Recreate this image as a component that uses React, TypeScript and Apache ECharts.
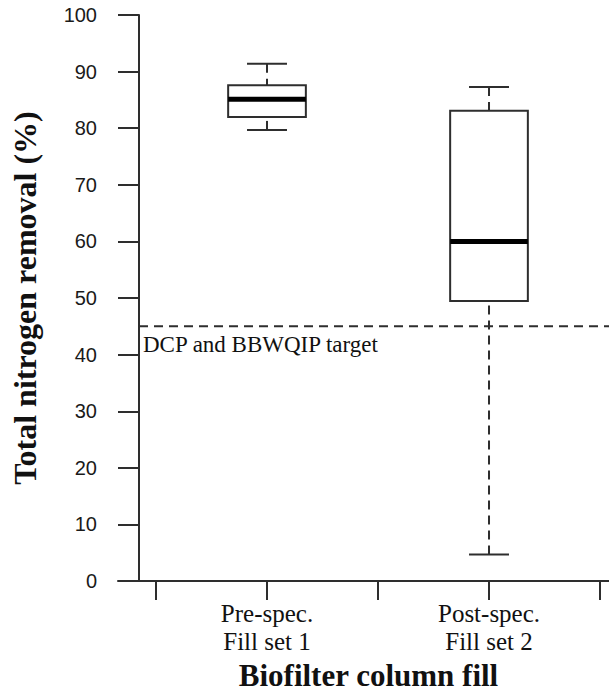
import React, { useEffect, useRef } from "react";
import * as echarts from "echarts";

// ---- data ----
const CATEGORIES = ["Pre-spec.\nFill set 1", "Post-spec.\nFill set 2"];
const CATEGORY_POS = [1, 2];
const MIN_VALUES = [79.7, 4.7];
const Q1_VALUES = [82.0, 49.5];
const MEDIAN_VALUES = [85.1, 60.0];
const Q3_VALUES = [87.6, 83.1];
const MAX_VALUES = [91.4, 87.3];
const TARGET_VALUE = 45;
const TARGET_LABEL = "DCP and BBWQIP target";
const X_TICK_VALUES = [0.5, 1, 1.5, 2, 2.5];
const Y_MIN = 0;
const Y_MAX = 100;
const Y_INTERVAL = 10;

// ---- axis extent (x is a value axis carrying the two groups at 1 and 2) ----
const X_MIN = 0.3288;
const X_MAX = 2.5405;
const Y_AXIS_AT = 0.4234;
const BOX_WIDTH = 0.35;
const CAP_WIDTH = 0.18;

const LINE = "#2e2e2e";
const SERIF = "'Liberation Serif', 'Times New Roman', serif";
const SANS = "'Liberation Sans', Arial, sans-serif";

export default function App() {
  const ref = useRef<HTMLDivElement>(null);

  useEffect(() => {
    if (!ref.current) return;
    const chart = echarts.init(ref.current, undefined, { renderer: "svg" });

    const boxData = CATEGORY_POS.map((p, i) => [
      p,
      MIN_VALUES[i],
      Q1_VALUES[i],
      MEDIAN_VALUES[i],
      Q3_VALUES[i],
      MAX_VALUES[i],
    ]);

    const option: any = {
      animation: false,
      backgroundColor: "#fff",
      grid: { left: 118, top: 15, right: 0, bottom: 109, containLabel: false },
      xAxis: {
        type: "value",
        min: X_MIN,
        max: X_MAX,
        splitLine: { show: false },
        axisLine: { show: true, lineStyle: { color: LINE, width: 2 } },
        axisTick: {
          show: true,
          length: 19,
          customValues: X_TICK_VALUES,
          lineStyle: { color: LINE, width: 2 },
        },
        axisLabel: {
          customValues: CATEGORY_POS,
          formatter: (v: number) => {
            const idx = CATEGORY_POS.findIndex((p) => Math.abs(p - v) < 1e-6);
            return idx >= 0 ? CATEGORIES[idx] : "";
          },
          margin: 18,
          fontFamily: SERIF,
          fontSize: 25,
          lineHeight: 28,
          color: "#111",
        },
        name: "Biofilter column fill",
        nameLocation: "middle",
        nameGap: 78,
        nameTextStyle: {
          fontFamily: SERIF,
          fontWeight: "bold",
          fontSize: 31,
          color: "#111",
          padding: [0, 0, 0, 10],
        },
      },
      yAxis: {
        type: "value",
        min: Y_MIN,
        max: Y_MAX,
        interval: Y_INTERVAL,
        offset: -21,
        splitLine: { show: false },
        axisLine: { show: true, onZero: false, lineStyle: { color: LINE, width: 2 } },
        axisTick: { show: true, length: 21, lineStyle: { color: LINE, width: 2 } },
        axisLabel: {
          margin: 42,
          fontFamily: SANS,
          fontSize: 20,
          color: "#1a1a1a",
          padding: [7, 0, 0, 0],
        },
        name: "Total nitrogen removal (%)",
        nameLocation: "middle",
        nameGap: 98,
        nameTextStyle: {
          fontFamily: SERIF,
          fontWeight: "bold",
          fontSize: 32,
          color: "#111",
        },
      },
      series: [
        {
          type: "custom",
          name: "target",
          data: [[Y_AXIS_AT, TARGET_VALUE, X_MAX]],
          encode: { x: [0, 2], y: 1 },
          renderItem: (params: any, api: any) => {
            const v = api.value(1);
            const p0 = api.coord([api.value(0), v]);
            const p1 = api.coord([api.value(2), v]);
            return {
              type: "group",
              children: [
                {
                  type: "line",
                  shape: { x1: p0[0], y1: p0[1], x2: p1[0], y2: p1[1] },
                  style: { stroke: LINE, lineWidth: 2, lineDash: [9, 6] },
                },
                {
                  type: "text",
                  x: p0[0] + 4,
                  y: p0[1] + 18,
                  style: {
                    text: TARGET_LABEL,
                    font: `23px ${SERIF}`,
                    fill: "#111",
                    textAlign: "left",
                    textVerticalAlign: "middle",
                  },
                },
              ],
            };
          },
        },
        {
          type: "custom",
          name: "boxes",
          data: boxData,
          encode: { x: 0, y: [1, 2, 3, 4, 5] },
          renderItem: (params: any, api: any) => {
            const x = api.value(0);
            const pMin = api.coord([x, api.value(1)]);
            const pQ1 = api.coord([x, api.value(2)]);
            const pMed = api.coord([x, api.value(3)]);
            const pQ3 = api.coord([x, api.value(4)]);
            const pMax = api.coord([x, api.value(5)]);
            const boxW = api.size([BOX_WIDTH, 0])[0];
            const capW = api.size([CAP_WIDTH, 0])[0];
            const cx = pMin[0];
            const left = cx - boxW / 2;
            return {
              type: "group",
              children: [
                {
                  type: "line",
                  shape: { x1: cx, y1: pMax[1], x2: cx, y2: pQ3[1] },
                  style: { stroke: LINE, lineWidth: 2, lineDash: [9, 6] },
                },
                {
                  type: "line",
                  shape: { x1: cx, y1: pMin[1], x2: cx, y2: pQ1[1] },
                  style: { stroke: LINE, lineWidth: 2, lineDash: [9, 6] },
                },
                {
                  type: "line",
                  shape: { x1: cx - capW / 2, y1: pMax[1], x2: cx + capW / 2, y2: pMax[1] },
                  style: { stroke: LINE, lineWidth: 2 },
                },
                {
                  type: "line",
                  shape: { x1: cx - capW / 2, y1: pMin[1], x2: cx + capW / 2, y2: pMin[1] },
                  style: { stroke: LINE, lineWidth: 2 },
                },
                {
                  type: "rect",
                  shape: { x: left, y: pQ3[1], width: boxW, height: pQ1[1] - pQ3[1] },
                  style: { fill: "#fff", stroke: LINE, lineWidth: 2 },
                },
                {
                  type: "line",
                  shape: { x1: left, y1: pMed[1], x2: left + boxW, y2: pMed[1] },
                  style: { stroke: "#000", lineWidth: 5 },
                },
              ],
            };
          },
        },
      ],
    };

    chart.setOption(option);
    return () => chart.dispose();
  }, []);

  return (
    <div
      ref={ref}
      style={{ position: "fixed", left: 0, top: 0, width: 609, height: 696, background: "#fff" }}
    />
  );
}
